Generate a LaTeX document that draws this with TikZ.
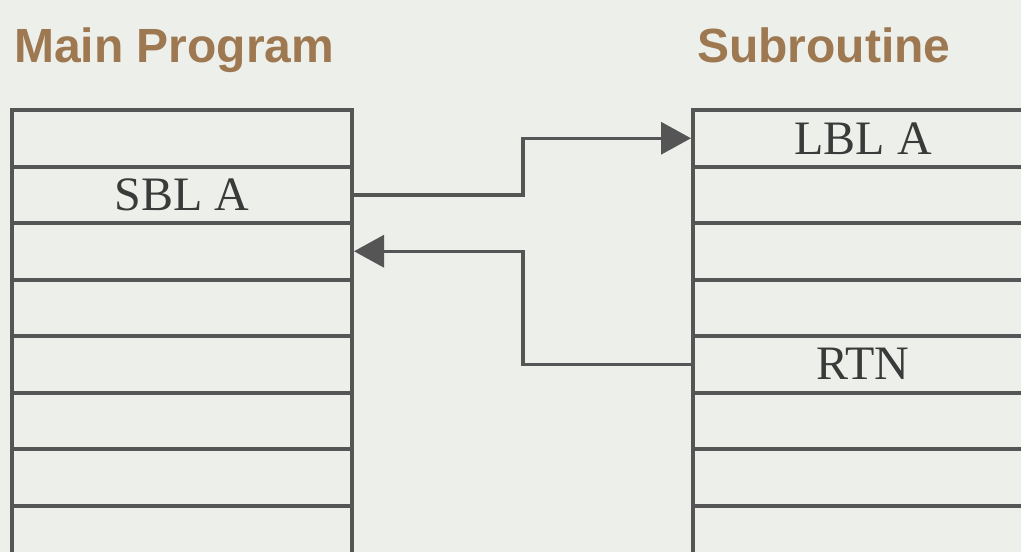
\documentclass[tikz,border=0pt]{standalone}
\usepackage{fontspec}
\setmainfont{Liberation Serif}
\setsansfont{Liberation Sans}
\usetikzlibrary{arrows.meta}
\definecolor{paper}{HTML}{EDEFEB}
\definecolor{ink}{HTML}{555555}
\definecolor{lettering}{HTML}{3A3A3A}
\definecolor{heading}{HTML}{9E7850}
\tikzset{
  row/.style={draw=ink, line width=4pt, minimum width=340pt, minimum height=56.5pt,
              inner sep=0pt},
  entry/.style={font=\fontsize{48}{48}\selectfont, text=lettering, inner sep=0pt},
  title/.style={anchor=base west, inner sep=0pt, text=heading,
                font=\sffamily\bfseries\fontsize{48}{48}\selectfont},
  link/.style={draw=ink, line width=3.5pt, -{Triangle[length=30pt,width=32pt]}}
}
\begin{document}
\begin{tikzpicture}[x=1pt,y=-1pt]
  \useasboundingbox (0,0) rectangle (1021,552);
  \fill[paper] (0,0) rectangle (1021,552);
  \clip (0,0) rectangle (1021,552);

  % headings
  \node[title] (hmain) at (14,62) {Main Program};
  \node[title] (hsub) at (697,62) {Subroutine};

  % main program listing: eight rows
  \foreach \i in {1,...,8} {
    \node[row] (L\i) at (182,{110+56.5*(\i-0.5)}) {};
  }
  % subroutine listing: eight rows
  \foreach \i in {1,...,8} {
    \node[row] (R\i) at (863,{110+56.5*(\i-0.5)}) {};
  }

  \node[entry] at (L2) (sbl) {SBL A};
  \node[entry] at (R1) (lbl) {LBL A};
  \node[entry] at (R5) (rtn) {RTN};

  % call and return paths
  \coordinate (bend) at (523,0);
  \draw[link] (L2.east) -- (L2.east -| bend) |- (R1.west);
  \draw[link] (R5.west) -- (R5.west -| bend) |- (L3.east);
\end{tikzpicture}
\end{document}
